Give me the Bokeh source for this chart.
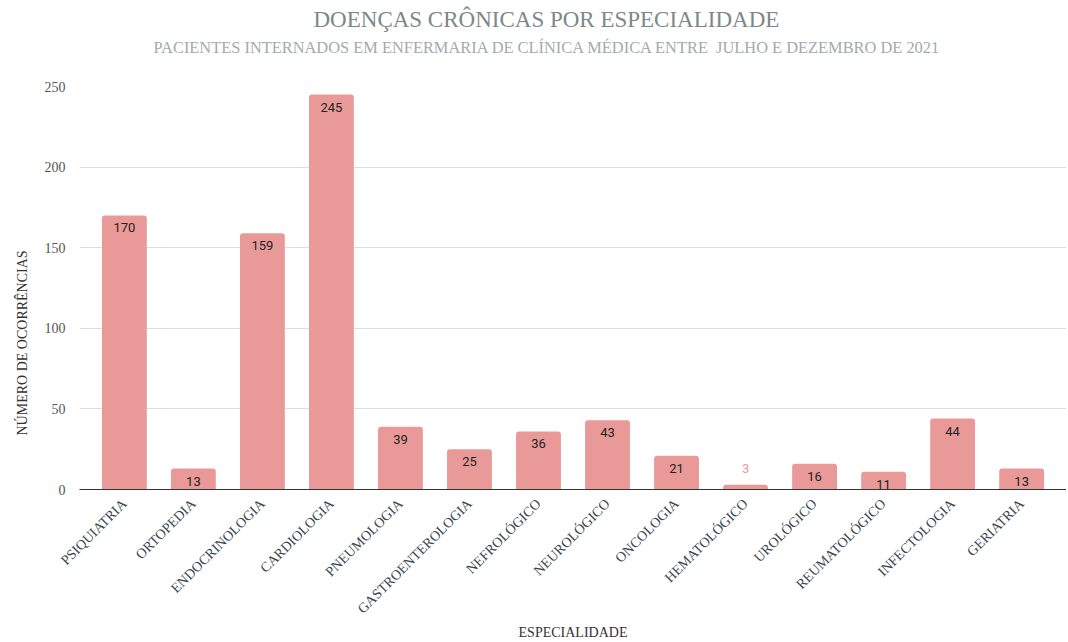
import math
from bokeh.plotting import figure
from bokeh.models import ColumnDataSource, Title, FactorRange, SingleIntervalTicker
from bokeh.embed import file_html
from bokeh.resources import INLINE
from bokeh.core.properties import value

categories = ["PSIQUIATRIA", "ORTOPEDIA", "ENDOCRINOLOGIA", "CARDIOLOGIA", "PNEUMOLOGIA",
              "GASTROENTEROLOGIA", "NEFROLÓGICO", "NEUROLÓGICO", "ONCOLOGIA", "HEMATOLÓGICO",
              "UROLÓGICO", "REUMATOLÓGICO", "INFECTOLOGIA", "GERIATRIA"]
counts = [170, 13, 159, 245, 39, 25, 36, 43, 21, 3, 16, 11, 44, 13]

SERIF = "Liberation Serif"
BAR = "#e99a98"

src = ColumnDataSource(dict(cat=categories, val=counts))
inside = ColumnDataSource(dict(cat=[c for c, v in zip(categories, counts) if v >= 8],
                               val=[v for v in counts if v >= 8],
                               lab=[str(v) for v in counts if v >= 8]))
outside = ColumnDataSource(dict(cat=[c for c, v in zip(categories, counts) if v < 8],
                                val=[v for v in counts if v < 8],
                                lab=[str(v) for v in counts if v < 8]))

p = figure(width=1066, height=642, output_backend="svg", toolbar_location=None,
           x_range=FactorRange(factors=categories, range_padding=0.15, range_padding_units="absolute"),
           y_range=(0, 250), min_border_left=78, min_border_right=0, min_border_top=0,
           min_border_bottom=0)

p.vbar(x="cat", top="val", width=0.65, source=src, fill_color=BAR, line_color=None,
       border_radius=(3, 3, 0, 0))
p.text(x="cat", y="val", text="lab", source=inside, text_align="center", text_baseline="top",
       y_offset=8, text_font=value("Roboto"), text_font_size="13px", text_color="#222222")
p.text(x="cat", y="val", text="lab", source=outside, text_align="center", text_baseline="bottom",
       y_offset=-12, text_font=value("Roboto"), text_font_size="13px", text_color=BAR)

p.add_layout(Title(text="\u00a0", text_font_size="25px", standoff=0), "above")
p.add_layout(Title(text="PACIENTES INTERNADOS EM ENFERMARIA DE CLÍNICA MÉDICA ENTRE \u00a0JULHO E DEZEMBRO DE 2021",
                   align="left", offset=74, text_font=SERIF, text_font_size="16.4px",
                   text_font_style="normal", text_color="#a3abab", standoff=0), "above")
p.add_layout(Title(text="DOENÇAS CRÔNICAS POR ESPECIALIDADE", align="left", offset=234, text_font=SERIF,
                   text_font_size="23px", text_font_style="normal", text_color="#7d8888",
                   standoff=8), "above")

p.add_layout(Title(text="NÚMERO DE OCORRÊNCIAS", align="left", offset=54, text_font=SERIF,
                   text_font_size="14px", text_font_style="normal", text_color="#333333",
                   standoff=24), "left")

p.outline_line_color = None
p.xgrid.grid_line_color = None
p.ygrid.grid_line_color = "#dedede"
p.yaxis.ticker = SingleIntervalTicker(interval=50)
p.yaxis.axis_line_color = None
p.yaxis.major_tick_line_color = None
p.yaxis.minor_tick_line_color = None
p.yaxis.major_label_standoff = 8
p.yaxis.major_label_text_font = SERIF
p.yaxis.major_label_text_font_size = "14px"
p.yaxis.major_label_text_color = "#555555"

p.xaxis.axis_line_color = "#333333"
p.xaxis.major_tick_line_color = None
p.xaxis.minor_tick_line_color = None
p.xaxis.major_label_standoff = 6
p.xaxis.major_label_orientation = math.pi / 4
p.xaxis.major_label_text_font = SERIF
p.xaxis.major_label_text_font_size = "14px"
p.xaxis.major_label_text_color = "#37474f"
p.xaxis.axis_label = "ESPECIALIDADE"
p.xaxis.axis_label_text_font = SERIF
p.xaxis.axis_label_text_font_size = "14px"
p.xaxis.axis_label_text_font_style = "normal"
p.xaxis.axis_label_text_color = "#333333"
p.xaxis.axis_label_standoff = 0

open("out.html", "w").write(file_html(p, INLINE))
